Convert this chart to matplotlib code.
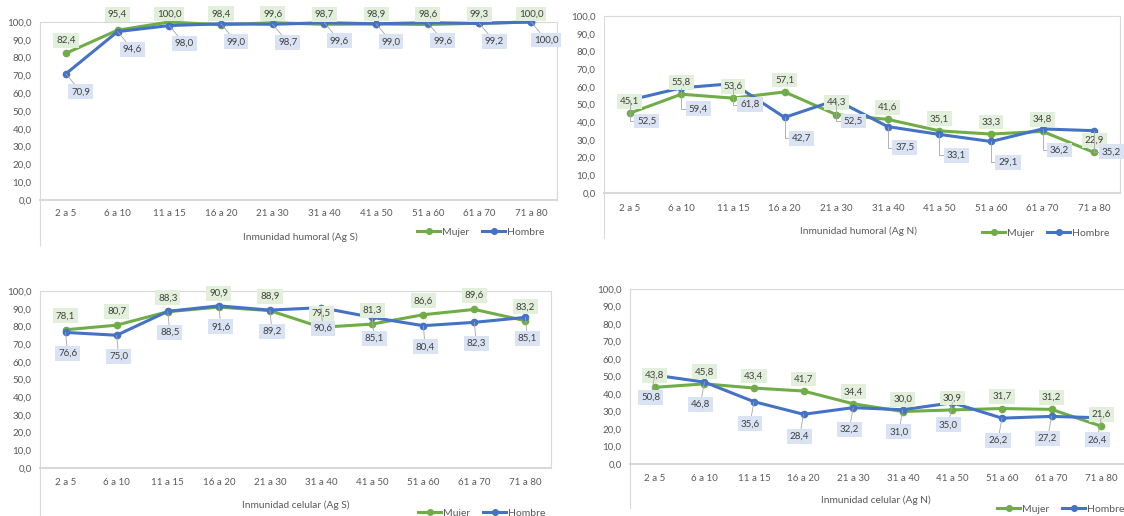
import matplotlib
matplotlib.use("Agg")
import matplotlib.pyplot as plt
from matplotlib.lines import Line2D

plt.rcParams['font.family'] = ['Lato', 'DejaVu Sans']

categories = ['2 a 5', '6 a 10', '11 a 15', '16 a 20', '21 a 30',
              '31 a 40', '41 a 50', '51 a 60', '61 a 70', '71 a 80']

hum_s_mujer = [82.4, 95.4, 100.0, 98.4, 99.6, 98.7, 98.9, 98.6, 99.3, 100.0]
hum_s_hombre = [70.9, 94.6, 98.0, 99.0, 98.7, 99.6, 99.0, 99.6, 99.2, 100.0]
hum_n_mujer = [45.1, 55.8, 53.6, 57.1, 44.3, 41.6, 35.1, 33.3, 34.8, 22.9]
hum_n_hombre = [52.5, 59.4, 61.8, 42.7, 52.5, 37.5, 33.1, 29.1, 36.2, 35.2]
cel_s_mujer = [78.1, 80.7, 88.3, 90.9, 88.9, 79.5, 81.3, 86.6, 89.6, 83.2]
cel_s_hombre = [76.6, 75.0, 88.5, 91.6, 89.2, 90.6, 85.1, 80.4, 82.3, 85.1]
cel_n_mujer = [43.8, 45.8, 43.4, 41.7, 34.4, 30.0, 30.9, 31.7, 31.2, 21.6]
cel_n_hombre = [50.8, 46.8, 35.6, 28.4, 32.2, 31.0, 35.0, 26.2, 27.2, 26.4]

titles = ['Inmunidad humoral (Ag S)', 'Inmunidad humoral (Ag N)',
          'Inmunidad celular (Ag S)', 'Inmunidad celular (Ag N)']
series_names = ['Mujer', 'Hombre']

GREEN = '#70AD47'
BLUE = '#4472C4'
GREEN_BOX = '#E2EFDA'
BLUE_BOX = '#DAE3F3'
TXT = '#404040'
AX_TXT = '#595959'
BORDER = '#D9D9D9'

W, H = 1124, 516
fig = plt.figure(figsize=(W / 100, H / 100), dpi=100)
fig.patch.set_facecolor('white')

# layout in pixels: left, right, y(0), y(100), left-line bottom, title xy, legend xy, xtick pad
layouts = [
    dict(L=40, R=557, y0=200, y100=22, ext=245, title=(300, 237), leg=(481, 232), xpad=6.5),
    dict(L=604, R=1120, y0=193, y100=16, ext=238, title=(859, 231), leg=(1046, 233), xpad=8.0),
    dict(L=40, R=551, y0=468, y100=291, ext=516, title=(296, 505), leg=(482, 513), xpad=7.5),
    dict(L=630, R=1126, y0=464, y100=289, ext=508, title=(876, 500), leg=(1061, 509), xpad=7.5),
]

# label offsets in pixels (dx, dy) for Mujer (above) and Hombre (below)
green_dy = [
    [13, 16, 8, 11, 9, 10, 10, 10, 9, 8],
    [12] * 10,
    [14] * 10,
    [12] * 10,
]
blue_off = [(15, -18), (17, -21), (2, -21), (-4, -22)]
angle_leader = [False, True, False, False]

data = [
    (hum_s_mujer, hum_s_hombre),
    (hum_n_mujer, hum_n_hombre),
    (cel_s_mujer, cel_s_hombre),
    (cel_n_mujer, cel_n_hombre),
]


def fmt(v):
    return f'{v:.1f}'.replace('.', ',')


for k, (lay, (muj, hom)) in enumerate(zip(layouts, data)):
    L, R, y0, y100 = lay['L'], lay['R'], lay['y0'], lay['y100']
    ax = fig.add_axes([L / W, 1 - y0 / H, (R - L) / W, (y0 - y100) / H])
    ax.set_xlim(-0.5, len(categories) - 0.5)
    ax.set_ylim(0, 100)
    ax.set_facecolor('none')
    for side in ['top', 'right', 'left']:
        ax.spines[side].set_color(BORDER)
        ax.spines[side].set_linewidth(0.8)
    ax.spines['bottom'].set_color(BORDER)
    ax.spines['bottom'].set_linewidth(1.5)
    ax.set_yticks(range(0, 101, 10))
    ax.set_yticklabels([fmt(v) for v in range(0, 101, 10)])
    ax.set_xticks(range(len(categories)))
    ax.set_xticklabels(categories)
    ax.tick_params(axis='y', length=0, pad=6, labelsize=7, labelcolor=AX_TXT)
    ax.tick_params(axis='x', length=0, pad=lay['xpad'], labelsize=7, labelcolor=AX_TXT)

    x = list(range(len(categories)))
    ax.plot(x, muj, color=GREEN, lw=2.2, marker='o', ms=4.5, label=series_names[0],
            clip_on=False, zorder=3)
    ax.plot(x, hom, color=BLUE, lw=2.2, marker='o', ms=4.5, label=series_names[1],
            clip_on=False, zorder=4)

    for i, v in enumerate(muj):
        ax.annotate(fmt(v), xy=(i, v), xytext=(0, green_dy[k][i]), textcoords='offset pixels',
                    ha='center', va='center', fontsize=7, color=TXT, zorder=6,
                    bbox=dict(boxstyle='square,pad=0.3', fc=GREEN_BOX, ec='none'),
                    annotation_clip=False)
    dx, dy = blue_off[k]
    cs = 'angle,angleA=0,angleB=90,rad=0' if angle_leader[k] else 'arc3'
    for i, v in enumerate(hom):
        ax.annotate(fmt(v), xy=(i, v), xytext=(dx, dy), textcoords='offset pixels',
                    ha='center', va='center', fontsize=7, color=TXT, zorder=6,
                    bbox=dict(boxstyle='square,pad=0.3', fc=BLUE_BOX, ec='none'),
                    arrowprops=dict(arrowstyle='-', color='#A6A6A6', lw=0.6,
                                    shrinkA=0, shrinkB=0, connectionstyle=cs),
                    annotation_clip=False)

    # left border line extending below the axis
    fig.add_artist(Line2D([L / W, L / W], [1 - y0 / H, 1 - lay['ext'] / H],
                          color=BORDER, lw=0.8, transform=fig.transFigure))
    tx, ty = lay['title']
    fig.text(tx / W, 1 - ty / H, titles[k], ha='center', va='center',
             fontsize=7.3, color=AX_TXT)
    lx, ly = lay['leg']
    ax.legend(loc='center', bbox_to_anchor=(lx / W, 1 - ly / H), bbox_transform=fig.transFigure,
              ncol=2, frameon=False, fontsize=7.5, labelcolor=AX_TXT, handlelength=2.2,
              handletextpad=0.2, columnspacing=1.2, borderpad=0, markerscale=0.9)

fig.savefig('out.png', dpi=100, facecolor='white')
